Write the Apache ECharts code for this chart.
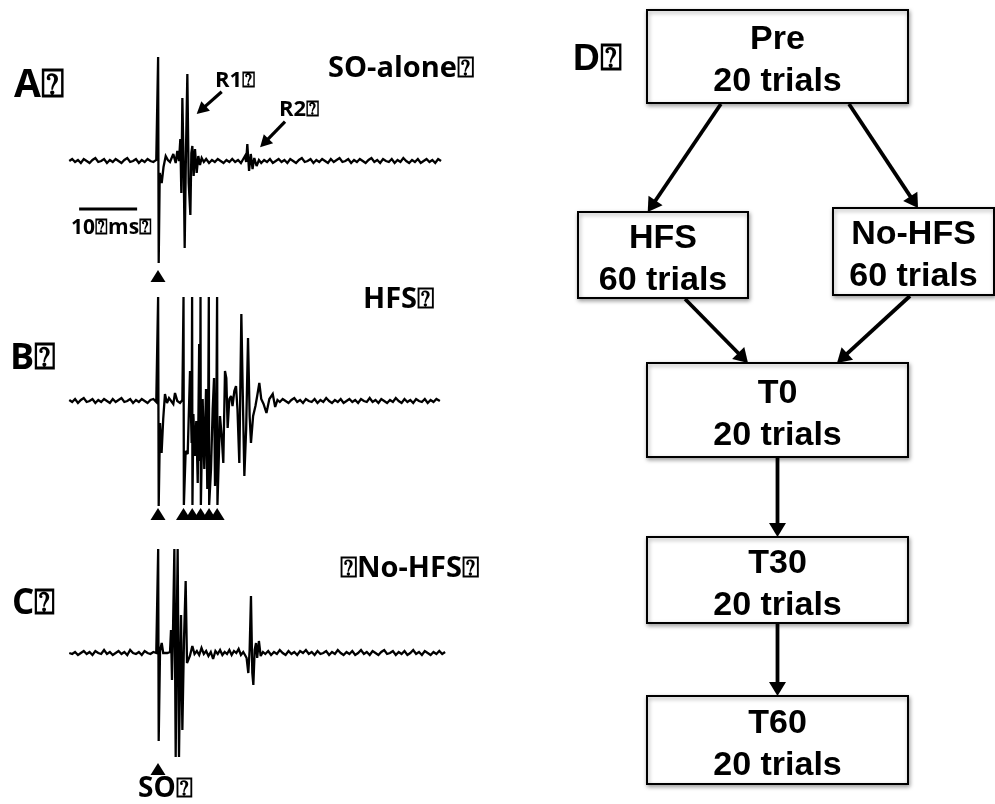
<!DOCTYPE html>
<html>
<head>
<meta charset="utf-8">
<script src="https://cdn.jsdelivr.net/npm/echarts@6/dist/echarts.min.js"></script>
<style>
  html, body { margin: 0; padding: 0; background: #fff; }
  #chart { width: 995px; height: 804px; }
</style>
</head>
<body>
<div id="chart"></div>
<script>
// Orbicularis oculi EMG, one sweep per condition: [ms after SO stimulus, amplitude]
const traceSOAlone = [
  [-15.3,0],[-14.8,2],[-14.3,-1],[-13.8,1],[-13.3,-2],[-12.8,2],[-12.3,0],[-11.8,-2],[-11.3,1],[-10.8,3],
  [-10.3,-1],[-9.8,0],[-9.3,2],[-8.8,-2],[-8.3,1],[-7.8,-1],[-7.3,2],[-6.8,0],[-6.3,-2],[-5.8,1],
  [-5.3,3],[-4.8,-1],[-4.3,0],[-3.8,2],[-3.3,-2],[-2.8,1],[-2.3,-1],[-1.8,2],[-1.3,0],[-0.8,-1],[-0.3,1],
  [-0.05,0],[0.02,104],[0.12,-102],[0.3,-12],[0.64,-22],[0.95,-6],[1.33,5],[1.7,1],[2.07,-1],[2.35,3],
  [2.64,7],[3.05,-2],[3.33,10],[3.62,0],[3.85,22],[4.02,-32],[4.2,63],[4.43,-8],[4.6,-87],[4.83,12],
  [5.06,87],[5.29,-22],[5.58,-54],[5.75,8],[5.92,15],[6.15,-15],[6.38,12],[6.67,-12],[6.95,5],[7.24,-4],[7.53,3],
  [7.9,-1],[8.3,2],[8.8,-2],[9.3,1],[9.8,-1],[10.3,2],[10.8,0],[11.3,-2],[11.8,1],[12.3,-1],[12.8,2],
  [13.3,-1],[13.8,1],[14.3,-2],[14.7,2],
  [15.0,5],[15.2,-1],[15.4,17],[15.7,-10],[16.0,7],[16.3,-8],[16.6,3],[17.0,-5],[17.4,1],
  [17.8,-2],[18.3,1],[18.8,-1],[19.3,2],[19.8,-2],[20.3,0],[20.8,2],[21.3,-1],[21.8,1],[22.3,-2],
  [22.8,2],[23.3,0],[23.8,-2],[24.3,1],[24.8,3],[25.3,-1],[25.8,0],[26.3,2],[26.8,-2],[27.3,1],
  [27.8,-1],[28.3,2],[28.8,0],[29.3,-2],[29.8,2],[30.3,-1],[30.8,1],[31.3,3],[31.8,-1],[32.3,0],
  [32.8,2],[33.3,-2],[33.8,1],[34.3,-1],[34.8,2],[35.3,0],[35.8,-2],[36.3,1],[36.8,3],[37.3,-1],
  [37.8,1],[38.3,-2],[38.8,2],[39.3,0],[39.8,-1],[40.3,2],[40.8,-2],[41.3,1],[41.8,-1],[42.3,3],
  [42.8,0],[43.3,-2],[43.8,1],[44.3,-1],[44.8,2],[45.3,-2],[45.8,0],[46.3,2],[46.8,-1],[47.3,1],
  [47.8,-2],[48.3,2],[48.8,0]
];

const traceHFS = [
  [-15.3,1],[-14.8,-1],[-14.3,2],[-13.8,-2],[-13.3,1],[-12.8,3],[-12.3,-1],[-11.8,0],[-11.3,2],[-10.8,-2],
  [-10.3,1],[-9.8,-1],[-9.3,2],[-8.8,0],[-8.3,-2],[-7.8,2],[-7.3,-1],[-6.8,1],[-6.3,3],[-5.8,-1],
  [-5.3,0],[-4.8,2],[-4.3,-2],[-3.8,1],[-3.3,-1],[-2.8,2],[-2.3,0],[-1.8,-2],[-1.3,1],[-0.8,2],[-0.3,-1],
  [-0.05,0],[0.02,104],[0.12,-105],[0.35,-22],[0.62,-52],[0.9,-18],[1.2,7],[1.55,-2],[1.9,3],[2.24,5],
  [2.64,-3],[2.93,8],[3.33,0],[3.8,-2],[4.2,1],
  [4.4,104],[4.46,-104],[4.77,-50],[5.12,-53],[5.52,30],[5.8,-42],
  [5.88,104],[5.94,-104],[6.1,-13],[6.35,-55],[6.6,-20],[6.85,-82],[7.1,57],[7.25,-60],
  [7.33,104],[7.39,-104],[7.7,2],[7.98,-68],[8.28,12],[8.5,-88],[8.65,-22],
  [8.76,104],[8.82,-104],[9.14,-68],[9.43,-8],[9.66,23],[9.83,-85],[10.05,-22],
  [10.19,104],[10.25,-104],[10.69,-15],[10.98,-35],[11.26,-62],[11.55,30],[11.78,23],[12.01,-27],
  [12.3,2],[12.59,5],[12.85,-5],[13.16,10],[13.45,15],[13.7,-8],[14.02,-62],[14.37,87],[14.6,12],
  [14.89,-75],[15.2,-28],[15.52,63],[15.8,-15],[16.03,-42],[16.4,-15],[16.8,-5],[17.1,5],[17.47,18],
  [17.8,2],[18.2,-3],[18.7,-12],[19.2,2],[19.78,7],[20.2,-6],[20.6,1],
  [21.0,-1],[21.5,2],[22.0,0],[22.5,-2],[23.0,1],[23.5,3],[24.0,-1],[24.5,1],[25.0,-2],[25.5,2],
  [26.0,0],[26.5,-1],[27.0,2],[27.5,-2],[28.0,1],[28.5,-1],[29.0,3],[29.5,0],[30.0,-2],[30.5,1],
  [31.0,-1],[31.5,2],[32.0,-2],[32.5,0],[33.0,2],[33.5,-1],[34.0,1],[34.5,-2],[35.0,2],[35.5,0],
  [36.0,-1],[36.5,3],[37.0,-1],[37.5,1],[38.0,-2],[38.5,2],[39.0,0],[39.5,-2],[40.0,1],[40.5,-1],
  [41.0,3],[41.5,0],[42.0,-2],[42.5,2],[43.0,-1],[43.5,1],[44.0,-2],[44.5,2],[45.0,0],[45.5,-1],
  [46.0,2],[46.5,-2],[47.0,1],[47.5,-1],[48.0,2],[48.6,0]
];

const traceNoHFS = [
  [-15.3,0],[-14.8,-1],[-14.3,1],[-13.8,-2],[-13.3,0],[-12.8,2],[-12.3,-1],[-11.8,1],[-11.3,-2],[-10.8,2],
  [-10.3,0],[-9.8,-1],[-9.3,3],[-8.8,-1],[-8.3,1],[-7.8,-2],[-7.3,0],[-6.8,2],[-6.3,-1],[-5.8,1],
  [-5.3,-2],[-4.8,3],[-4.3,0],[-3.8,-1],[-3.3,1],[-2.8,-2],[-2.3,2],[-1.8,0],[-1.3,-1],[-0.8,1],[-0.3,0],
  [-0.05,0],[0.03,104],[0.12,-88],[0.35,2],[0.64,10],[0.9,0],[1.2,-2],[1.6,0],[2.07,1],[2.24,23],
  [2.41,-27],[2.58,20],[2.82,104],[3.05,-104],[3.2,10],[3.39,104],[3.62,-104],[3.79,-25],[3.97,38],
  [4.2,-77],[4.48,13],[4.77,72],[5.0,-10],[5.23,-12],[5.5,-3],[5.92,7],[6.3,-1],[6.7,2],
  [7.1,-2],[7.5,5],[7.9,-1],[8.3,2],[8.7,-3],[9.1,1],[9.5,-6],[9.9,2],[10.3,-1],[10.7,3],
  [11.1,-2],[11.5,1],[11.9,-1],[12.3,3],[12.7,-2],[13.1,2],[13.5,0],[13.9,4],[14.3,-2],[14.7,1],
  [15.0,-2],[15.28,-5],[15.57,-20],[15.8,3],[16.03,57],[16.26,-20],[16.44,-32],[16.67,3],[16.9,10],
  [17.1,-5],[17.4,12],[17.7,-3],[18.1,1],
  [18.5,-1],[19.0,2],[19.5,-2],[20.0,1],[20.5,-1],[21.0,3],[21.5,0],[22.0,-2],[22.5,2],[23.0,-1],
  [23.5,1],[24.0,-2],[24.5,2],[25.0,0],[25.5,3],[26.0,-1],[26.5,1],[27.0,-2],[27.5,2],[28.0,-1],
  [28.5,0],[29.0,2],[29.5,-2],[30.0,1],[30.5,-1],[31.0,3],[31.5,0],[32.0,-2],[32.5,1],[33.0,-1],
  [33.5,2],[34.0,-2],[34.5,0],[35.0,3],[35.5,-1],[36.0,1],[36.5,-2],[37.0,2],[37.5,0],[38.0,-2],
  [38.5,1],[39.0,3],[39.5,-1],[40.0,0],[40.5,2],[41.0,-2],[41.5,1],[42.0,-1],[42.5,2],[43.0,-2],
  [43.5,0],[44.0,3],[44.5,-1],[45.0,1],[45.5,-2],[46.0,2],[46.5,0],[47.0,-2],[47.5,1],[48.0,-1],
  [48.5,2],[49.0,-1],[49.5,1]
];

// stimulus markers (ms)
const soStimTimes = [0];
const hfsPulseTimes = [4.4, 5.9, 7.35, 8.8, 10.2];
const scaleBarMs = 10;

// protocol flow
const stageNames = ['Pre', 'HFS', 'No-HFS', 'T0', 'T30', 'T60'];
const stageTrials = [20, 60, 60, 20, 20, 20];
const stageLinks = [[0, 1], [0, 2], [1, 3], [2, 3], [3, 4], [4, 5]];

// ---------- layout ----------
const PX_PER_MS = 5.8, STIM_X = 158, T_MIN = -15.5, T_MAX = 49.5;
const TRACE_TOPS = [50, 290, 542], TRACE_H = 240, V_MIN = -129, V_MAX = 111;
const MARKER_LEVEL = [-115, -113, -116];
const SCALE_BAR = { t0: -13.6, v: -48 };
// R1 / R2 pointers in panel A: [tailT, tailV, tipT, tipV]
const POINTERS = [[10.98, 69.3, 6.67, 47], [21.9, 39.3, 17.6, 13.7]];

// box rectangles [x, y, w, h] in page pixels
const BOXES = [
  [647, 10, 261, 93], [578, 212, 170, 86], [833, 208, 161, 87],
  [647, 363, 261, 94], [647, 537, 261, 86], [647, 696, 261, 88]
];
// where each link leaves the source bottom / meets the target top (fraction of width)
const LINK_ANCHORS = [[0.283, 0.41], [0.774, 0.528], [0.63, 0.387], [0.478, 0.728], [0.5, 0.5], [0.5, 0.5]];

const SANS = '"Open Sans", "DejaVu Sans", sans-serif';
const ARIAL = '"Liberation Sans", Arial, "DejaVu Sans", sans-serif';
const Q = '\u2370';

function arrowParts(x1, y1, x2, y2, len, wid) {
  const dx = x2 - x1, dy = y2 - y1, L = Math.hypot(dx, dy);
  const ux = dx / L, uy = dy / L;
  const bx = x2 - ux * len, by = y2 - uy * len;
  const px = -uy * wid / 2, py = ux * wid / 2;
  return {
    shaft: [x1, y1, bx + ux * 1, by + uy * 1],
    head: [[x2, y2], [bx + px, by + py], [bx - px, by - py]]
  };
}

function arrowGroup(p1, p2, len, wid, lw) {
  const a = arrowParts(p1[0], p1[1], p2[0], p2[1], len, wid);
  return {
    type: 'group',
    children: [
      { type: 'line', shape: { x1: a.shaft[0], y1: a.shaft[1], x2: a.shaft[2], y2: a.shaft[3] },
        style: { stroke: '#000', lineWidth: lw } },
      { type: 'polygon', shape: { points: a.head }, style: { fill: '#000' } }
    ]
  };
}

const grids = TRACE_TOPS.map(top => ({
  left: STIM_X + T_MIN * PX_PER_MS, top: top,
  width: (T_MAX - T_MIN) * PX_PER_MS, height: TRACE_H
}));
grids.push({ left: 0, top: 0, width: 995, height: 804 });

const xAxes = TRACE_TOPS.map((_, i) => ({ type: 'value', gridIndex: i, min: T_MIN, max: T_MAX, show: false }));
xAxes.push({ type: 'value', gridIndex: 3, min: 0, max: 995, show: false });
const yAxes = TRACE_TOPS.map((_, i) => ({ type: 'value', gridIndex: i, min: V_MIN, max: V_MAX, show: false }));
yAxes.push({ type: 'value', gridIndex: 3, min: 0, max: 804, inverse: true, show: false });

const traces = [traceSOAlone, traceHFS, traceNoHFS];
const series = [];
traces.forEach((d, i) => {
  series.push({
    type: 'line', xAxisIndex: i, yAxisIndex: i, data: d, showSymbol: false, symbol: 'none',
    lineStyle: { color: '#000', width: 2.3, join: 'miter', miterLimit: 3 }, silent: true, clip: false, z: 2
  });
  const marks = (i === 1 ? soStimTimes.concat(hfsPulseTimes) : soStimTimes).map(t => [t, MARKER_LEVEL[i]]);
  series.push({
    type: 'scatter', xAxisIndex: i, yAxisIndex: i, data: marks, symbol: 'triangle',
    symbolSize: [15, 12], itemStyle: { color: '#000', opacity: 1 }, silent: true, z: 3
  });
});

// 10 ms scale bar
series.push({
  type: 'line', xAxisIndex: 0, yAxisIndex: 0, showSymbol: false, symbol: 'none',
  data: [[SCALE_BAR.t0, SCALE_BAR.v], [SCALE_BAR.t0 + scaleBarMs, SCALE_BAR.v]],
  lineStyle: { color: '#000', width: 3 }, silent: true
});

// R1 / R2 pointers
series.push({
  type: 'custom', xAxisIndex: 0, yAxisIndex: 0, silent: true, z: 4,
  data: POINTERS,
  renderItem: function (params, api) {
    const p = POINTERS[params.dataIndex];
    return arrowGroup(api.coord([p[0], p[1]]), api.coord([p[2], p[3]]), 12, 13, 3.2);
  }
});

// flow boxes
series.push({
  type: 'custom', xAxisIndex: 3, yAxisIndex: 3, silent: true, z: 5,
  data: stageNames.map((n, i) => [BOXES[i][0], BOXES[i][1]]),
  renderItem: function (params, api) {
    const i = params.dataIndex, b = BOXES[i];
    const tl = api.coord([b[0], b[1]]), br = api.coord([b[0] + b[2], b[1] + b[3]]);
    return {
      type: 'group',
      children: [
        { type: 'rect', shape: { x: tl[0], y: tl[1], width: br[0] - tl[0], height: br[1] - tl[1] },
          style: { fill: '#fff', stroke: '#000', lineWidth: 2,
                   shadowBlur: 4, shadowColor: 'rgba(0,0,0,0.35)', shadowOffsetX: 1, shadowOffsetY: 2 } },
        { type: 'text', x: (tl[0] + br[0]) / 2, y: (tl[1] + br[1]) / 2 + 4.5,
          style: { text: stageNames[i] + '\n' + stageTrials[i] + ' trials',
                   font: 'bold 34px ' + ARIAL, fill: '#000', align: 'center', verticalAlign: 'middle',
                   lineHeight: 42 } }
      ]
    };
  }
});

// flow links
series.push({
  type: 'custom', xAxisIndex: 3, yAxisIndex: 3, silent: true, z: 6,
  data: stageLinks.map(l => [l[0], l[1]]),
  renderItem: function (params, api) {
    const l = stageLinks[params.dataIndex], f = LINK_ANCHORS[params.dataIndex];
    const s = BOXES[l[0]], t = BOXES[l[1]];
    const p1 = api.coord([s[0] + s[2] * f[0], s[1] + s[3] + 1]);
    const p2 = api.coord([t[0] + t[2] * f[1], t[1]]);
    return arrowGroup(p1, p2, 14, 17, 3.8);
  }
});

function label(text, x, baseline, size, family) {
  return {
    type: 'text', x: x, y: baseline - 0.33 * size, silent: true,
    style: { text: text, font: 'bold ' + size + 'px ' + family, fill: '#000', align: 'left', verticalAlign: 'middle' }
  };
}

const chart = echarts.init(document.getElementById('chart'), null, { renderer: 'canvas' });
chart.setOption({
  animation: false,
  backgroundColor: '#fff',
  grid: grids,
  xAxis: xAxes,
  yAxis: yAxes,
  series: series,
  graphic: [
    label('A' + Q, 14, 99, 39, SANS),
    label('B' + Q, 10, 371, 36, SANS),
    label('C' + Q, 12, 616, 35, SANS),
    label('SO-alone' + Q, 328, 78, 29, SANS),
    label('R1' + Q, 215, 88, 22, SANS),
    label('R2' + Q, 279, 117, 22, SANS),
    label('10' + Q + 'ms' + Q, 71, 235, 21, SANS),
    label('HFS' + Q, 363, 309, 29, SANS),
    label(Q + 'No-HFS' + Q, 340, 578, 29, SANS),
    label('SO' + Q, 138, 798, 28, SANS),
    label('D' + Q, 573, 72, 37, ARIAL)
  ]
});
</script>
</body>
</html>
